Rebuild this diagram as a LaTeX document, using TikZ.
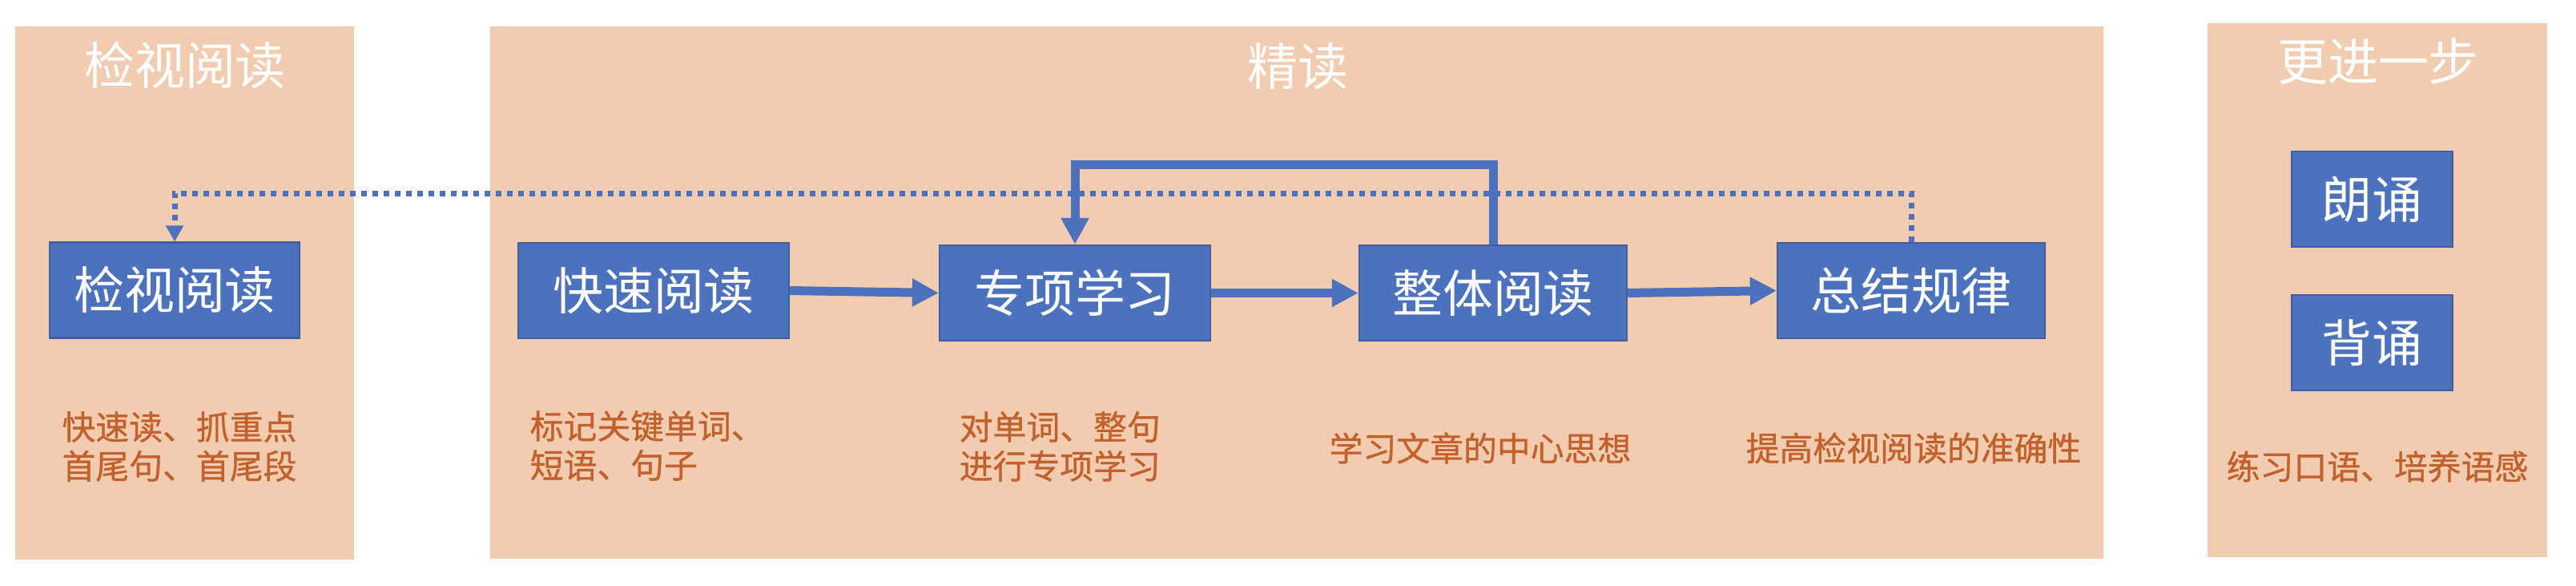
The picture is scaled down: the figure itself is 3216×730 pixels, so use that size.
\documentclass[tikz,border=0pt]{standalone}
\usepackage{fontspec}
\setmainfont{Noto Sans CJK SC}
\newfontfamily\notefont[FakeBold=0.8]{Noto Sans CJK SC}
\usetikzlibrary{arrows.meta}
\definecolor{panel}{HTML}{F1CCB0}
\definecolor{boxblue}{HTML}{4C72BE}
\definecolor{boxedge}{HTML}{3F5F9E}
\definecolor{note}{HTML}{C2612C}
\begin{document}
\begin{tikzpicture}[x=0.01cm,y=-0.01cm,
  panelbox/.style={fill=panel,draw=none},
  titletext/.style={text=white,inner sep=0pt,font=\fontsize{17.9pt}{20pt}\selectfont},
  stepbox/.style={draw=boxedge,line width=0.6pt,fill=boxblue,text=white,inner sep=0pt,
    minimum height=1.19cm,font=\fontsize{17.9pt}{20pt}\selectfont},
  notetext/.style={text=note,inner sep=0pt,font=\notefont\fontsize{11.9pt}{13.9pt}\selectfont},
  flow/.style={draw=boxblue,line width=0.11cm,miter limit=10,-{Triangle[length=0.33cm,width=0.33cm]}},
  dotflow/.style={draw=boxblue,line width=0.07cm,dash pattern=on 0.07cm off 0.07cm,-{Triangle[length=0.2cm,width=0.21cm]}}
]
\useasboundingbox (0,0) rectangle (3216,730);
% panels
\path[panelbox] (19,33) rectangle (442,698);
\path[panelbox] (612,33) rectangle (2626,697);
\path[panelbox] (2756,29) rectangle (3180,695);
% titles
\node[titletext] (t1) at (231,82) {检视阅读};
\node[titletext] (t2) at (1620,83) {精读};
\node[titletext] (t3) at (2969,77) {更进一步};
% boxes
\node[stepbox,minimum width=3.12cm] (b0) at (218,362) {检视阅读};
\node[stepbox,minimum width=3.38cm] (b1) at (816,362.5) {快速阅读};
\node[stepbox,minimum width=3.38cm] (b2) at (1342,365.5) {专项学习};
\node[stepbox,minimum width=3.34cm] (b3) at (1864,365.5) {整体阅读};
\node[stepbox,minimum width=3.34cm] (b4) at (2386,362.5) {总结规律};
\node[stepbox,minimum width=2.01cm] (b5) at (2961.5,248.5) {朗诵};
\node[stepbox,minimum width=2.01cm] (b6) at (2961.5,427.5) {背诵};
% notes
\node[notetext,align=center] (n0) at (224,557) {快速读、抓重点\\首尾句、首尾段};
\node[notetext,align=left,anchor=west] (n1) at (661,556) {标记关键单词、\\短语、句子};
\node[notetext,align=left,anchor=west] (n2) at (1197,557) {对单词、整句\\进行专项学习};
\node[notetext] (n3) at (1848,559) {学习文章的中心思想};
\node[notetext] (n4) at (2389,559) {提高检视阅读的准确性};
\node[notetext] (n5) at (2968,582) {练习口语、培养语感};
% dotted feedback
\coordinate (dotturn) at (2386,241);
\draw[dotflow] (b4.north) -- (b4.north |- dotturn) -| (b0.north);
% flow arrows
\draw[flow] (b1.east) -- (b2.west);
\draw[flow] (b2.east) -- (b3.west);
\draw[flow] (b3.east) -- (b4.west);
\coordinate (fbturn) at (1864,205);
\draw[flow] (b3.north) -- (b3.north |- fbturn) -| (b2.north);
\end{tikzpicture}
\end{document}
